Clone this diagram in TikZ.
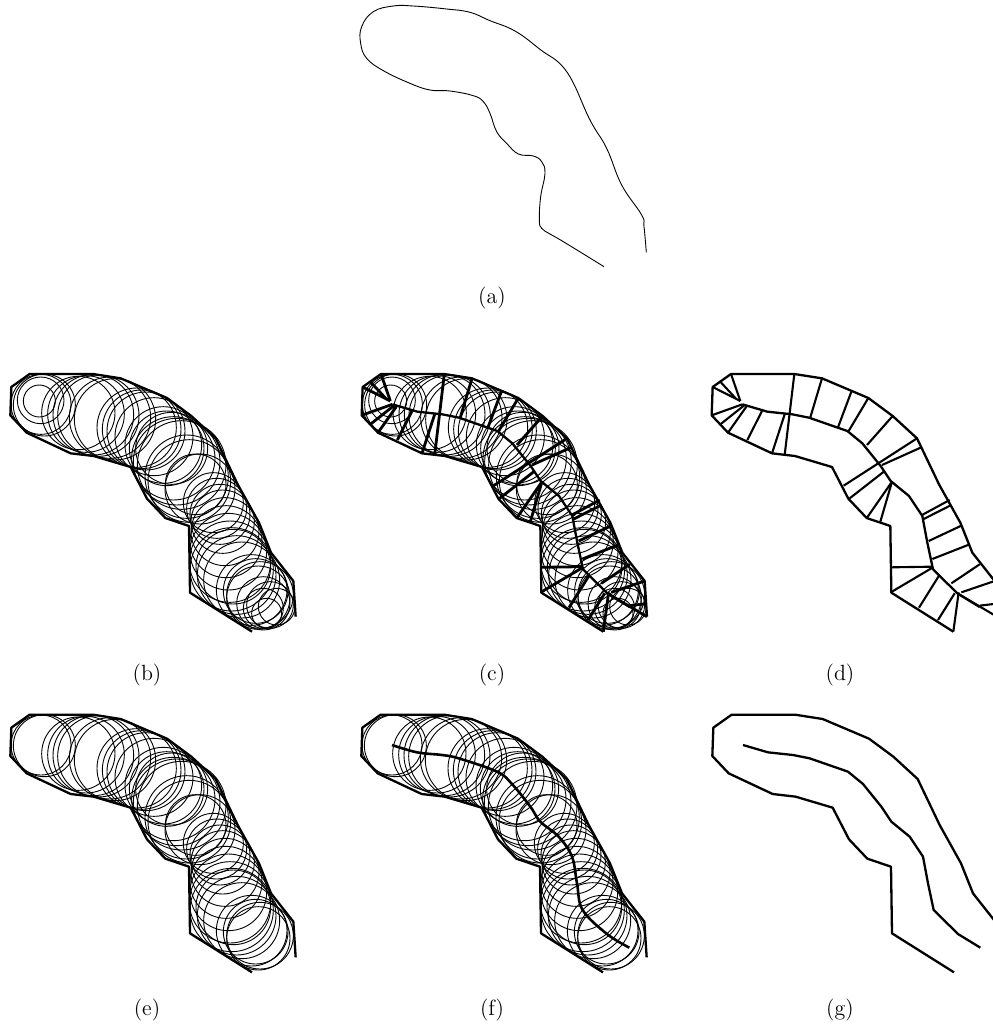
\documentclass[tikz,border=0pt]{standalone}
\tikzset{
  outlinepath/.style={line width=1.15pt,line join=round},
  chordpath/.style={line width=1.05pt},
  thincircle/.style={line width=0.45pt},
  thincurve/.style={line width=0.45pt},
  caption/.style={inner sep=0pt,anchor=center,font=\fontsize{11}{13}\selectfont}
}
\newcommand{\drawOutline}{\draw[outlinepath] (781,800)--(595,683)--(592,483)--(521,459)--(466,401)--(417,306)--(306,273)--(237,265)--(105,203)--(56,151)--(59,66)--(114,27)--(304,27)--(387,40)--(526,99)--(599,153)--(672,220)--(738,358)--(802,473)--(838,563)--(905,648)--(912,755);}
\newcommand{\drawSkeleton}{\draw[outlinepath] (148,118)--(223,140)--(298,148)--(348,158)--(463,198)--(508,235)--(563,303)--(593,348)--(648,393)--(688,453)--(703,533)--(720,613)--(793,685)--(860,726);}
\newcommand{\drawMainCircles}{%
  \foreach \cx/\cy/\rr in {123/118/90,133/120/93,235/144/110,258/147/115,280/149/121,295/152/122,330/158/122,345/163/122,
    410/188/119,425/193/118,438/198/117,462/215/117,490/240/115,500/250/112,515/250/108,520/280/125,530/290/130,
    545/300/133,560/335/125,568/348/124,587/358/91,600/372/105,640/413/90,650/430/90,660/448/90,668/470/95,675/500/102,678/530/108,
    685/560/115,690/590/122,695/613/125,700/605/112,710/630/118,725/645/114,755/675/106,767/678/97,775/698/95,780/690/100}
  {\draw[thincircle] (\cx+25,\cy) circle[radius=\rr];}}
\newcommand{\drawExtraCircles}{%
  \foreach \cx/\cy/\rr in {118/108/48,122/106/70,790/730/60,810/720/70,800/745/45,790/715/80,830/725/55}
  {\draw[thincircle] (\cx+25,\cy) circle[radius=\rr];}}
\newcommand{\drawChords}[1]{%
  \foreach \ax/\ay/\bx/\by in {114/27/142/108,59/66/142/108,80/48/128/100,56/151/148/118,82/178/155/120,105/203/160/125,
    163/225/207/138,237/265/275/148,275/270/304/27,387/40/352/157,475/80/435/187,526/99/467/198,599/153/522/240,
    672/220/452/362,685/247/567/300,575/318/470/400,597/350/522/458,597/350/562/470,770/405/687/450,775/420/692/462,
    805/482/707/528,830/538/718/582,592/607/718/605,595/681/720/607,678/728/738/632,735/765/785/685,781/800/797/682,
    775/655/860/598,805/682/905/648,860/722/910/716,793/685/912/755}
  {\draw[chordpath,line width=#1] (\ax,\ay)--(\bx,\by);}}
\begin{document}
\begin{tikzpicture}[x=0.16667pt,y=-0.16667pt]
\path[use as bounding box] (0,0) rectangle (2979,3096);
\clip (0,0) rectangle (2979,3096);
% (a)
\begin{scope}[shift={(1050,0)}]
\draw[thincurve] plot[smooth,tension=0.7] coordinates {(762,800)(640,725)(600,702)(575,685)(568,660)(572,590)(585,520)(575,485)(550,468)(505,462)(470,430)(440,395)(420,340)(400,305)(370,287)(300,273)(240,270)(180,250)(100,212)(50,175)(32,130)(35,80)(70,35)(130,18)(190,18)(290,27)(360,37)(420,62)(495,93)(570,148)(650,215)(720,360)(770,445)(815,555)(875,645)(882,680)(889,757)};
\end{scope}
% (b)
\begin{scope}[shift={(-25,1095)}]
\drawMainCircles \drawExtraCircles \drawOutline
\end{scope}
% (c)
\begin{scope}[shift={(1029,1095)}]
\drawMainCircles \drawExtraCircles \drawChords{1.4pt} \drawSkeleton \drawOutline
\end{scope}
% (d)
\begin{scope}[shift={(2079,1095)}]
\drawChords{1.05pt} \drawSkeleton \drawOutline
\end{scope}
% (e)
\begin{scope}[shift={(-25,2117)}]
\drawMainCircles \drawOutline
\end{scope}
% (f)
\begin{scope}[shift={(1028,2117)}]
\drawMainCircles
\draw[outlinepath,line width=1.3pt] plot[smooth,tension=0.6] coordinates {(148,118)(223,140)(298,148)(348,158)(463,198)(508,235)(563,303)(593,348)(648,393)(688,453)(703,533)(720,613)(793,685)(860,726)};
\drawOutline
\end{scope}
% (g)
\begin{scope}[shift={(2081,2117)}]
\drawSkeleton \drawOutline
\end{scope}
\node[caption] (capa) at (1476,894) {(a)};
\node[caption] (capb) at (441,2025) {(b)};
\node[caption] (capc) at (1476,2025) {(c)};
\node[caption] (capd) at (2520,2025) {(d)};
\node[caption] (cape) at (441,3030) {(e)};
\node[caption] (capf) at (1476,3030) {(f)};
\node[caption] (capg) at (2520,3030) {(g)};
\end{tikzpicture}
\end{document}
